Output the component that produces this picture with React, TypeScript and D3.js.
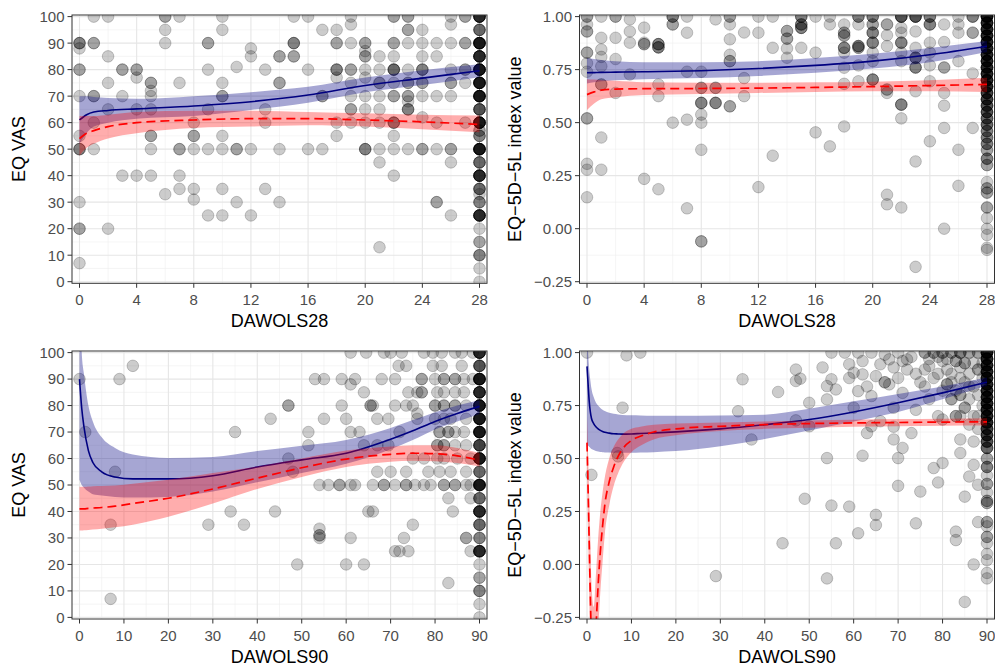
import * as d3 from "d3";

type Pt = [number, number, number]; // x, y, number of overlapping observations

// ---- axes ----
const dawols28Ticks = [0, 4, 8, 12, 16, 20, 24, 28];
const dawols28Minor = [2, 6, 10, 14, 18, 22, 26];
const dawols90Ticks = [0, 10, 20, 30, 40, 50, 60, 70, 80, 90];
const dawols90Minor = [5, 15, 25, 35, 45, 55, 65, 75, 85];
const vasTicks = [0, 10, 20, 30, 40, 50, 60, 70, 80, 90, 100];
const vasMinor = [5, 15, 25, 35, 45, 55, 65, 75, 85, 95];
const eq5dTicks = [-0.25, 0, 0.25, 0.5, 0.75, 1];
const eq5dMinor = [-0.125, 0.125, 0.375, 0.625, 0.875];
const eq5dTickLabels = ["\u22120.25", "0.00", "0.25", "0.50", "0.75", "1.00"];

// ---- top-left: EQ VAS vs DAWOLS28 ----
const tlPoints: Pt[] = [
  [0, 90, 3], [0, 88, 1], [0, 80, 2], [0, 70, 1], [0, 55, 1], [0, 50, 3], [0, 30, 1], [0, 20, 2], [0, 7, 1],
  [1, 100, 1], [1, 90, 2], [1, 70, 2], [1, 60, 1], [1, 50, 1],
  [2, 100, 1], [2, 85, 1], [2, 75, 1], [2, 65, 1], [2, 20, 1],
  [3, 80, 2], [3, 70, 1], [3, 40, 1],
  [4, 80, 2], [4, 77, 1], [4, 65, 1], [4, 40, 1],
  [5, 75, 2], [5, 72, 1], [5, 70, 1], [5, 65, 1], [5, 55, 2], [5, 50, 1], [5, 40, 1],
  [6, 100, 2], [6, 95, 1], [6, 90, 1], [6, 33, 1],
  [7, 100, 1], [7, 75, 1], [7, 50, 2], [7, 40, 1], [7, 35, 1],
  [8, 60, 1], [8, 55, 2], [8, 50, 1], [8, 35, 1], [8, 31, 1],
  [9, 90, 2], [9, 80, 1], [9, 65, 1], [9, 50, 1], [9, 25, 1],
  [10, 100, 1], [10, 95, 1], [10, 75, 1], [10, 70, 2], [10, 55, 1], [10, 50, 1], [10, 35, 1], [10, 25, 1],
  [11, 81, 1], [11, 50, 2], [11, 30, 1],
  [12, 88, 1], [12, 85, 1], [12, 50, 1], [12, 25, 1],
  [13, 80, 1], [13, 65, 1], [13, 60, 1], [13, 35, 1],
  [14, 85, 2], [14, 75, 2], [14, 50, 1], [14, 30, 1],
  [15, 100, 1], [15, 90, 3], [15, 85, 2],
  [16, 100, 1], [16, 80, 1], [16, 50, 1],
  [17, 95, 1], [17, 70, 2], [17, 50, 1],
  [18, 95, 1], [18, 90, 2], [18, 80, 3], [18, 77, 1], [18, 60, 1], [18, 55, 1],
  [19, 100, 1], [19, 97, 1], [19, 90, 1], [19, 80, 2], [19, 75, 1], [19, 70, 1], [19, 65, 2], [19, 60, 1],
  [20, 90, 2], [20, 87, 1], [20, 85, 2], [20, 80, 1], [20, 77, 1], [20, 70, 1], [20, 65, 1], [20, 60, 1], [20, 50, 3],
  [21, 85, 1], [21, 80, 1], [21, 75, 2], [21, 70, 1], [21, 65, 1], [21, 60, 1], [21, 50, 1], [21, 45, 1], [21, 13, 1],
  [22, 100, 2], [22, 90, 2], [22, 85, 1], [22, 80, 4], [22, 75, 1], [22, 70, 2], [22, 60, 3], [22, 55, 1], [22, 50, 1], [22, 40, 1],
  [23, 100, 2], [23, 95, 2], [23, 90, 1], [23, 80, 1], [23, 75, 2], [23, 70, 2], [23, 68, 1], [23, 65, 3], [23, 50, 1],
  [24, 95, 1], [24, 90, 1], [24, 85, 1], [24, 80, 3], [24, 75, 2], [24, 70, 1], [24, 62, 1], [24, 50, 2],
  [25, 90, 1], [25, 85, 1], [25, 70, 1], [25, 60, 1], [25, 50, 1], [25, 30, 2],
  [26, 100, 1], [26, 97, 1], [26, 90, 1], [26, 80, 1], [26, 75, 2], [26, 70, 1], [26, 50, 2], [26, 45, 1], [26, 25, 1],
  [27, 100, 2], [27, 90, 2], [27, 80, 2], [27, 75, 1], [27, 60, 1],
  [28, 100, 8], [28, 95, 4], [28, 90, 10], [28, 85, 8], [28, 80, 10], [28, 75, 10], [28, 70, 10], [28, 65, 5],
  [28, 60, 10], [28, 57, 2], [28, 55, 3], [28, 50, 10], [28, 45, 4], [28, 40, 8], [28, 35, 4], [28, 33, 1],
  [28, 30, 3], [28, 25, 8], [28, 20, 1], [28, 15, 2], [28, 10, 3], [28, 5, 1], [28, 0, 1],
];
const tlGrid = [0, 0.5, 1, 2, 4, 8, 12, 16, 20, 24, 28];
const tlBlue = [61, 63, 64, 64.6, 65.2, 66.3, 67.9, 70.4, 74, 76.8, 79.6];
const tlBlueLo = [52, 56, 58.5, 60, 61.5, 62.5, 64.8, 67.5, 71.5, 74.2, 77.1];
const tlBlueHi = [70, 70, 69.7, 69.3, 69, 70, 71.5, 73.5, 77, 79.8, 82];
const tlRed = [54, 56, 57, 58.5, 60, 61, 61.5, 61.5, 61, 60.3, 59.3];
const tlRedLo = [47.5, 50.5, 52, 54, 56, 58, 58.5, 59, 58.5, 57.5, 56.4];
const tlRedHi = [62.5, 62.5, 62.5, 63, 64, 64.5, 64.5, 64, 63.5, 63, 62.7];

// ---- top-right: EQ-5D-5L vs DAWOLS28 ----
const trPoints: Pt[] = [
  [0, 1, 2], [0, 0.963, 1], [0, 0.93, 2], [0, 0.83, 2], [0, 0.78, 1], [0, 0.74, 1], [0, 0.52, 2], [0, 0.306, 1], [0, 0.278, 1], [0, 0.148, 1],
  [1, 1, 1], [1, 0.9, 1], [1, 0.845, 1], [1, 0.81, 1], [1, 0.766, 1], [1, 0.68, 2], [1, 0.43, 1], [1, 0.278, 1],
  [2, 1, 2], [2, 0.9, 1], [2, 0.8, 1], [2, 0.64, 1],
  [3, 0.987, 1], [3, 0.93, 1], [3, 0.877, 1], [3, 0.727, 1],
  [4, 0.948, 1], [4, 0.877, 1], [4, 0.87, 2], [4, 0.235, 1],
  [5, 0.87, 3], [5, 0.855, 3], [5, 0.68, 1], [5, 0.625, 1], [5, 0.186, 1],
  [6, 1, 3], [6, 0.963, 2], [6, 0.5, 1],
  [7, 1, 1], [7, 0.924, 1], [7, 0.74, 1], [7, 0.514, 1], [7, 0.096, 1],
  [8, 0.74, 1], [8, 0.664, 2], [8, 0.593, 3], [8, 0.538, 1], [8, 0.5, 1], [8, 0.372, 1], [8, -0.06, 2],
  [9, 0.987, 1], [9, 0.664, 2], [9, 0.593, 3],
  [10, 1, 2], [10, 0.963, 1], [10, 0.893, 1], [10, 0.82, 1], [10, 0.79, 2], [10, 0.577, 2],
  [11, 0.925, 1], [11, 0.71, 1], [11, 0.625, 1],
  [12, 1, 1], [12, 0.924, 1], [12, 0.196, 1],
  [13, 1, 1], [13, 0.853, 1], [13, 0.344, 1],
  [14, 0.932, 2], [14, 0.896, 2], [14, 0.85, 1], [14, 0.806, 1],
  [15, 1, 3], [15, 0.963, 3], [15, 0.947, 3], [15, 0.853, 1],
  [16, 1, 1], [16, 0.83, 1], [16, 0.454, 1],
  [17, 1, 1], [17, 0.963, 1], [17, 0.388, 1],
  [18, 0.963, 1], [18, 0.924, 2], [18, 0.91, 2], [18, 0.853, 3], [18, 0.83, 1], [18, 0.759, 1], [18, 0.683, 1], [18, 0.482, 1],
  [19, 1, 3], [19, 0.963, 1], [19, 0.861, 3], [19, 0.853, 2], [19, 0.77, 1], [19, 0.695, 1],
  [20, 1, 3], [20, 0.963, 2], [20, 0.924, 3], [20, 0.877, 3], [20, 0.83, 1], [20, 0.79, 1], [20, 0.703, 3],
  [21, 0.963, 2], [21, 0.912, 1], [21, 0.861, 1], [21, 0.656, 2], [21, 0.64, 1], [21, 0.16, 1], [21, 0.115, 1],
  [22, 1, 5], [22, 0.947, 1], [22, 0.924, 1], [22, 0.877, 3], [22, 0.83, 1], [22, 0.79, 1], [22, 0.585, 3], [22, 0.52, 1], [22, 0.1, 1],
  [23, 1, 5], [23, 0.93, 1], [23, 0.853, 1], [23, 0.806, 3], [23, 0.76, 3], [23, 0.648, 1], [23, 0.317, 1], [23, -0.18, 1],
  [24, 1, 3], [24, 0.963, 3], [24, 0.877, 1], [24, 0.83, 1], [24, 0.77, 1], [24, 0.695, 1], [24, 0.412, 1],
  [25, 0.963, 1], [25, 0.88, 1], [25, 0.76, 2], [25, 0.64, 1], [25, 0.58, 1], [25, 0.475, 1], [25, 0, 1],
  [26, 1, 1], [26, 0.963, 1], [26, 0.924, 1], [26, 0.79, 1], [26, 0.372, 1], [26, 0.202, 1],
  [27, 1, 3], [27, 0.924, 2], [27, 0.732, 1], [27, 0.475, 1],
  [28, 1, 10], [28, 0.97, 8], [28, 0.94, 8], [28, 0.91, 8], [28, 0.88, 8], [28, 0.85, 8], [28, 0.82, 8],
  [28, 0.79, 8], [28, 0.76, 8], [28, 0.73, 8], [28, 0.7, 8], [28, 0.67, 8], [28, 0.64, 6], [28, 0.61, 6],
  [28, 0.58, 5], [28, 0.55, 5], [28, 0.52, 4], [28, 0.49, 4], [28, 0.46, 3], [28, 0.43, 3], [28, 0.4, 3],
  [28, 0.37, 2], [28, 0.33, 3], [28, 0.3, 2], [28, 0.22, 1], [28, 0.19, 2], [28, 0.17, 2], [28, 0.1, 2],
  [28, 0.05, 1], [28, 0, 1], [28, -0.03, 1], [28, -0.09, 1], [28, -0.1, 1],
];
const trGrid = [0, 0.5, 1, 2, 4, 8, 12, 16, 20, 24, 28];
const trBlue = [0.735, 0.736, 0.737, 0.738, 0.74, 0.745, 0.755, 0.77, 0.79, 0.82, 0.86];
const trBlueLo = [0.685, 0.69, 0.695, 0.7, 0.705, 0.71, 0.72, 0.735, 0.755, 0.785, 0.833];
const trBlueHi = [0.805, 0.8, 0.795, 0.79, 0.785, 0.785, 0.79, 0.805, 0.825, 0.852, 0.885];
const trRed = [0.632, 0.645, 0.653, 0.658, 0.66, 0.661, 0.663, 0.666, 0.67, 0.675, 0.68];
const trRedLo = [0.56, 0.59, 0.61, 0.62, 0.63, 0.635, 0.64, 0.645, 0.648, 0.648, 0.645];
const trRedHi = [0.705, 0.703, 0.7, 0.697, 0.69, 0.688, 0.688, 0.69, 0.693, 0.7, 0.712];

// ---- bottom-left: EQ VAS vs DAWOLS90 ----
const blPoints: Pt[] = [
  [0, 90, 1], [1.3, 70, 1], [7, 35, 1], [7, 7, 1], [8, 55, 1], [9, 90, 1], [12, 95, 1], [29, 35, 1], [34, 40, 1],
  [35, 70, 1], [37, 35, 1], [43, 75, 1], [44, 40, 1], [47, 80, 2], [47, 60, 1], [48, 55, 1], [49, 20, 1],
  [51.5, 70, 1], [51.5, 65, 1], [53, 90, 1], [54, 50, 1], [54, 33.5, 1], [54, 31, 2], [54, 30, 1], [55, 90, 1],
  [55, 75, 1], [56, 50, 1], [58.5, 50, 2], [59, 90, 1], [59, 80, 1], [60, 75, 1], [60, 20, 1], [61, 100, 1],
  [61, 88, 1], [61, 70, 1], [61, 50, 1], [61, 30, 1], [62, 90, 1], [62, 50, 1], [63, 70, 1], [64, 85, 1],
  [64, 65, 1], [64, 20, 1], [64.5, 100, 1], [65, 40, 1], [65.5, 80, 2], [66, 80, 1], [66, 50, 1], [66, 40, 1],
  [67, 75, 1], [67, 65, 1], [67, 55, 1], [68, 90, 1], [68.5, 100, 1], [68.5, 50, 2], [69.5, 75, 1], [69.5, 65, 1],
  [70, 100, 1], [70, 55, 1], [71, 90, 1], [71, 80, 1], [71, 50, 1], [71, 25, 1], [71.8, 95, 1], [72, 70, 1],
  [72, 25, 1], [72.5, 100, 1], [73, 30, 1], [73.5, 95, 1], [73.5, 80, 1], [73.5, 55, 1], [73.5, 50, 2], [74, 85, 1],
  [74, 25, 1], [75, 80, 1], [75, 60, 1], [75, 35, 1], [75.5, 50, 1], [76, 85, 1], [76, 77, 1], [76, 75, 1],
  [77, 90, 2], [77, 85, 2], [77.5, 100, 1], [77.5, 60, 1], [77.5, 50, 1], [78.5, 55, 1], [79, 50, 1], [79.5, 100, 1],
  [79.5, 95, 1], [80, 90, 1], [80, 80, 2], [80, 75, 1], [80.5, 85, 1], [80.5, 65, 2], [80.5, 60, 1], [81, 70, 2],
  [81, 55, 1], [81.5, 100, 1], [81.5, 95, 1], [82, 90, 2], [82, 85, 1], [82, 80, 2], [82, 75, 1], [82, 65, 2],
  [82, 60, 1], [82, 50, 2], [83, 70, 2], [83, 45, 1], [83, 13, 1], [83.5, 75, 1], [83.5, 55, 1], [84, 40, 1],
  [84.5, 100, 1], [84.5, 90, 2], [84.5, 85, 1], [84.5, 80, 2], [84.5, 70, 1], [84.5, 65, 1], [84.5, 50, 2], [85, 60, 1],
  [86, 100, 1], [86, 95, 1], [86.5, 90, 1], [86.5, 85, 1], [86.5, 70, 1], [87, 80, 1], [87, 75, 1], [87, 65, 1],
  [87, 55, 1], [87, 50, 1], [87, 30, 2], [88, 60, 1], [88, 50, 1], [88, 45, 1], [88, 25, 1], [88.5, 100, 1], [88.5, 90, 1],
  [90, 100, 8], [90, 95, 5], [90, 90, 10], [90, 85, 8], [90, 80, 10], [90, 75, 10], [90, 70, 10], [90, 65, 6],
  [90, 60, 10], [90, 55, 4], [90, 50, 10], [90, 45, 4], [90, 40, 8], [90, 35, 4], [90, 30, 3], [90, 25, 8],
  [90, 20, 1], [90, 15, 2], [90, 10, 3], [90, 5, 1], [90, 0, 1],
];
const blGrid = [0, 0.5, 1, 2, 3, 5, 8, 12, 20, 30, 40, 50, 60, 70, 75, 80, 85, 90];
const blBlue = [90, 79, 72, 63, 58.5, 55, 53, 52.3, 52.3, 53.5, 56.8, 59.5, 62, 67.3, 70.5, 74, 77, 79.7];
const blBlueLo = [52, 50, 49, 47.5, 46.5, 46, 45.5, 45.3, 45.5, 47.5, 51, 54.5, 58, 63.5, 67, 71, 74, 76.8];
const blBlueHi = [125, 100, 92, 80, 74, 68, 64, 61.5, 60.2, 60.6, 62.8, 64.8, 67, 71.5, 74.5, 77.5, 80, 82];
const blRed = [41, 41, 41, 41.2, 41.3, 41.5, 42, 43, 45, 48.5, 52.6, 56.5, 59.8, 61.6, 62, 61.8, 61, 59.3];
const blRedLo = [32.8, 32.8, 32.9, 33, 33.2, 33.5, 34, 35, 38, 43, 48.5, 53, 56.8, 58.8, 59.2, 59, 58.3, 57];
const blRedHi = [49.3, 49.3, 49.3, 49.4, 49.5, 49.6, 49.8, 50.5, 52, 54.5, 57, 60, 63, 64.5, 65, 65, 64, 62.1];

// ---- bottom-right: EQ-5D-5L vs DAWOLS90 ----
const brPoints: Pt[] = [
  [0, 1, 1], [1, 0.423, 1], [6.8, 0.526, 1], [7, 0.51, 1], [8, 0.74, 1], [8.9, 0.987, 1], [12, 1, 1], [29, -0.055, 1],
  [34, 0.723, 1], [35, 0.874, 1], [37, 0.59, 1], [43, 0.814, 1], [44, 0.1, 1], [47, 0.92, 1], [47, 0.866, 1],
  [47, 0.68, 1], [48, 0.877, 1], [49, 0.31, 1], [50, 0.763, 1], [50, 0.652, 1], [53, 0.93, 1], [54, 0.842, 1],
  [54, 0.779, 1], [54, 0.502, 1], [54, -0.066, 1], [55, 1, 1], [55, 0.874, 1], [55, 0.278, 1], [56, 0.826, 1],
  [56, 0.1, 1], [58, 1, 1], [59, 0.945, 1], [59, 0.88, 1], [59, 0.273, 1], [60, 0.905, 1], [60, 0.74, 1], [61, 1, 1],
  [61, 0.818, 1], [61, 0.147, 1], [62, 0.96, 1], [62, 0.897, 1], [62, 0.513, 1], [63, 0.84, 1], [63, 0.62, 1],
  [64, 1, 1], [64, 0.795, 1], [64, 0.652, 1], [65, 0.889, 1], [65, 0.234, 1], [65, 0.186, 1], [66, 0.945, 1],
  [66, 0.676, 1], [67, 0.99, 1], [67, 0.86, 2], [68, 0.968, 1], [68, 0.85, 1], [69, 0.93, 1], [69, 0.74, 1],
  [69, 0.65, 1], [69, 0.59, 1], [70, 1, 1], [70, 0.88, 1], [70, 0.502, 1], [70, 0.371, 1], [71, 0.96, 1],
  [71, 0.81, 1], [71, 0.55, 1], [72, 0.968, 1], [72, 0.92, 1], [73, 0.98, 1], [73, 0.62, 1], [74, 0.9, 1],
  [74, 0.73, 1], [74, 0.194, 1], [75, 0.86, 1], [75, 0.344, 1], [76, 1, 2], [76, 0.84, 1], [77, 0.937, 1],
  [77, 0.78, 1], [78, 1, 2], [78, 0.88, 1], [78, 0.455, 1], [79, 0.98, 1], [79, 0.7, 1], [79, 0.387, 1],
  [80, 1, 2], [80, 0.96, 1], [80, 0.684, 1], [80, 0.479, 1], [81, 0.92, 1], [81, 0.85, 2], [82, 1, 2],
  [82, 0.9, 1], [82, 0.78, 2], [83, 0.96, 2], [83, 0.7, 2], [83, 0.155, 1], [83, 0.115, 1], [84, 1, 3],
  [84, 0.88, 1], [84, 0.8, 2], [84, 0.59, 1], [84, 0.526, 1], [85, 0.95, 2], [85, 0.74, 2], [85, 0.32, 1],
  [85, -0.177, 1], [86, 1, 2], [86, 0.9, 1], [86, 0.78, 1], [86, 0.66, 1], [86, 0.415, 1], [87, 0.84, 1],
  [87, 0.7, 1], [87, 0.58, 1], [87, 0.47, 1], [87, 0, 1], [88, 1, 2], [88, 0.92, 2], [88, 0.8, 1], [88, 0.64, 1],
  [88, 0.376, 1], [88, 0.2, 1], [89, 0.95, 1], [89, 0.75, 1],
  [76, 0.92, 1], [77, 0.97, 1], [79, 0.9, 1], [80, 0.82, 1], [81, 0.97, 1], [82, 0.86, 1], [83, 0.82, 1],
  [84, 0.93, 1], [85, 0.86, 1], [86, 0.84, 1], [87, 0.95, 1], [88, 0.7, 1], [89, 0.88, 1], [84, 0.7, 1],
  [90, 1, 10], [90, 0.97, 8], [90, 0.94, 8], [90, 0.91, 8], [90, 0.88, 8], [90, 0.85, 8], [90, 0.82, 8],
  [90, 0.79, 8], [90, 0.76, 8], [90, 0.73, 8], [90, 0.7, 8], [90, 0.67, 8], [90, 0.64, 6], [90, 0.61, 6],
  [90, 0.58, 5], [90, 0.55, 4], [90, 0.5, 2], [90, 0.46, 3], [90, 0.42, 1], [90, 0.38, 2], [90, 0.34, 1],
  [90, 0.3, 2], [90, 0.29, 2], [90, 0.2, 2], [90, 0.18, 1], [90, 0.13, 2], [90, 0.1, 1], [90, 0.05, 1],
  [90, 0.02, 1], [90, -0.04, 1], [90, -0.066, 1],
];
const brGrid = [0, 0.25, 0.5, 0.75, 1, 1.5, 2, 2.5, 3, 3.5, 4, 5, 6, 7, 8, 10, 12, 15, 20, 30, 40, 50, 60, 70, 80, 90];
const brBlue = [0.935, 0.85, 0.77, 0.72, 0.69, 0.665, 0.65, 0.64, 0.633, 0.628, 0.624, 0.62, 0.617, 0.616, 0.615, 0.616, 0.618, 0.621, 0.626, 0.64, 0.66, 0.684, 0.72, 0.763, 0.81, 0.86];
const brBlueLo = [0.56, 0.56, 0.555, 0.55, 0.545, 0.54, 0.535, 0.533, 0.531, 0.53, 0.529, 0.528, 0.527, 0.527, 0.527, 0.527, 0.528, 0.53, 0.535, 0.558, 0.592, 0.632, 0.675, 0.72, 0.78, 0.843];
const brBlueHi = [1.1, 1.0, 0.92, 0.87, 0.83, 0.79, 0.765, 0.75, 0.738, 0.73, 0.724, 0.716, 0.711, 0.708, 0.706, 0.704, 0.703, 0.702, 0.702, 0.703, 0.707, 0.735, 0.77, 0.805, 0.84, 0.882];
const brRed = [0.575, 0.35, 0.1, -0.15, -0.35, -0.45, -0.3, -0.1, 0.06, 0.18, 0.28, 0.39, 0.46, 0.51, 0.545, 0.585, 0.605, 0.625, 0.64, 0.652, 0.66, 0.665, 0.668, 0.67, 0.672, 0.673];
const brRedLo = [0.45, 0.15, -0.15, -0.42, -0.62, -0.7, -0.55, -0.32, -0.13, 0.01, 0.14, 0.28, 0.37, 0.43, 0.475, 0.53, 0.56, 0.59, 0.61, 0.63, 0.64, 0.645, 0.65, 0.652, 0.655, 0.656];
const brRedHi = [0.7, 0.52, 0.33, 0.12, -0.08, -0.2, -0.05, 0.12, 0.25, 0.34, 0.41, 0.5, 0.555, 0.59, 0.615, 0.64, 0.65, 0.66, 0.665, 0.67, 0.675, 0.68, 0.683, 0.686, 0.688, 0.69];

const FONT = '"Liberation Sans", Arial, Helvetica, sans-serif';
const TICK_SIZE = 15;
const TITLE_SIZE = 18;

type PanelProps = {
  id: string;
  left: number;
  right: number;
  top: number;
  bottom: number;
  xDomain: [number, number];
  yDomain: [number, number];
  xTicks: number[];
  xMinor: number[];
  yTicks: number[];
  yMinor: number[];
  yLabels: string[];
  points: Pt[];
  grid: number[];
  blue: number[];
  blueLo: number[];
  blueHi: number[];
  red: number[];
  redLo: number[];
  redHi: number[];
  xTitle: string;
  yTitle: string;
  yTitleX: number;
};

function Panel(p: PanelProps) {
  const x = d3.scaleLinear().domain(p.xDomain).range([p.left + 7.5, p.right - 7.5]);
  const y = d3.scaleLinear().domain(p.yDomain).range([p.bottom - 1.6, p.top + 1.6]);

  const line = (vals: number[]) =>
    d3
      .line<number>()
      .x((_, i) => x(p.grid[i]))
      .y((v) => y(v))
      .curve(d3.curveMonotoneX)(vals) ?? "";
  const area = (lo: number[], hi: number[]) =>
    d3
      .area<number>()
      .x((g) => x(g))
      .y0((_, i) => y(lo[i]))
      .y1((_, i) => y(hi[i]))
      .curve(d3.curveMonotoneX)(p.grid) ?? "";

  const midX = (p.left + p.right) / 2;
  const midY = (p.top + p.bottom) / 2;

  return (
    <g>
      <defs>
        <clipPath id={p.id}>
          <rect x={p.left} y={p.top} width={p.right - p.left} height={p.bottom - p.top} />
        </clipPath>
      </defs>
      <rect x={p.left} y={p.top} width={p.right - p.left} height={p.bottom - p.top} fill="#fff" />

      {/* grid */}
      <g stroke="#efefef" strokeWidth={0.6}>
        {p.xMinor.map((t) => (
          <line key={"xm" + t} x1={x(t)} x2={x(t)} y1={p.top} y2={p.bottom} />
        ))}
        {p.yMinor.map((t) => (
          <line key={"ym" + t} x1={p.left} x2={p.right} y1={y(t)} y2={y(t)} />
        ))}
      </g>
      <g stroke="#e6e6e6" strokeWidth={1.1}>
        {p.xTicks.map((t) => (
          <line key={"xg" + t} x1={x(t)} x2={x(t)} y1={p.top} y2={p.bottom} />
        ))}
        {p.yTicks.map((t) => (
          <line key={"yg" + t} x1={p.left} x2={p.right} y1={y(t)} y2={y(t)} />
        ))}
      </g>

      <g clipPath={`url(#${p.id})`}>
        <g fill="#000" fillOpacity={0.2} stroke="#000" strokeOpacity={0.2} strokeWidth={1}>
          {p.points.flatMap(([px, py, n], k) =>
            d3.range(n).map((j) => <circle key={k + "-" + j} cx={x(px)} cy={y(py)} r={5.8} />)
          )}
        </g>
        <path d={area(p.blueLo, p.blueHi)} fill="#000080" fillOpacity={0.35} />
        <path d={line(p.blue)} fill="none" stroke="#000080" strokeWidth={1.6} />
        <path d={area(p.redLo, p.redHi)} fill="#ff0000" fillOpacity={0.32} />
        <path d={line(p.red)} fill="none" stroke="#ff0000" strokeWidth={1.7} strokeDasharray="9,5" />
      </g>

      <rect x={p.left} y={p.top} width={p.right - p.left} height={p.bottom - p.top} fill="none" stroke="#333" strokeWidth={1} />

      {/* axes */}
      <g stroke="#333" strokeWidth={1}>
        {p.xTicks.map((t) => (
          <line key={"xt" + t} x1={x(t)} x2={x(t)} y1={p.bottom} y2={p.bottom + 4.5} />
        ))}
        {p.yTicks.map((t) => (
          <line key={"yt" + t} x1={p.left - 4.5} x2={p.left} y1={y(t)} y2={y(t)} />
        ))}
      </g>
      <g fontFamily={FONT} fontSize={TICK_SIZE} fill="#4d4d4d">
        {p.xTicks.map((t) => (
          <text key={"xl" + t} x={x(t)} y={p.bottom + 21.5} textAnchor="middle">
            {t}
          </text>
        ))}
        {p.yTicks.map((t, i) => (
          <text key={"yl" + t} x={p.left - 7.5} y={y(t)} dy="0.36em" textAnchor="end">
            {p.yLabels[i]}
          </text>
        ))}
      </g>
      <text x={midX} y={p.bottom + 43.7} textAnchor="middle" fontFamily={FONT} fontSize={TITLE_SIZE} fill="#000">
        {p.xTitle}
      </text>
      <text
        transform={`translate(${p.yTitleX},${midY}) rotate(-90)`}
        textAnchor="middle"
        fontFamily={FONT}
        fontSize={TITLE_SIZE}
        fill="#000"
      >
        {p.yTitle}
      </text>
    </g>
  );
}

export default function App() {
  const vasLabels = vasTicks.map(String);
  const leftBox = { left: 72, right: 487 };
  const rightBox = { left: 579.5, right: 994.5 };
  const topBox = { top: 15, bottom: 283.3 };
  const botBox = { top: 351, bottom: 619 };

  return (
    <svg
      width={995}
      height={669}
      viewBox="0 0 995 669"
      style={{ position: "absolute", left: 0, top: 0, background: "#fff" }}
    >
      <rect width={995} height={669} fill="#fff" />
      <Panel
        id="clip-tl"
        {...leftBox}
        {...topBox}
        xDomain={[0, 28]}
        yDomain={[0, 100]}
        xTicks={dawols28Ticks}
        xMinor={dawols28Minor}
        yTicks={vasTicks}
        yMinor={vasMinor}
        yLabels={vasLabels}
        points={tlPoints}
        grid={tlGrid}
        blue={tlBlue}
        blueLo={tlBlueLo}
        blueHi={tlBlueHi}
        red={tlRed}
        redLo={tlRedLo}
        redHi={tlRedHi}
        xTitle="DAWOLS28"
        yTitle="EQ VAS"
        yTitleX={25}
      />
      <Panel
        id="clip-tr"
        {...rightBox}
        {...topBox}
        xDomain={[0, 28]}
        yDomain={[-0.25, 1]}
        xTicks={dawols28Ticks}
        xMinor={dawols28Minor}
        yTicks={eq5dTicks}
        yMinor={eq5dMinor}
        yLabels={eq5dTickLabels}
        points={trPoints}
        grid={trGrid}
        blue={trBlue}
        blueLo={trBlueLo}
        blueHi={trBlueHi}
        red={trRed}
        redLo={trRedLo}
        redHi={trRedHi}
        xTitle="DAWOLS28"
        yTitle={"EQ\u22125D\u22125L index value"}
        yTitleX={520.5}
      />
      <Panel
        id="clip-bl"
        {...leftBox}
        {...botBox}
        xDomain={[0, 90]}
        yDomain={[0, 100]}
        xTicks={dawols90Ticks}
        xMinor={dawols90Minor}
        yTicks={vasTicks}
        yMinor={vasMinor}
        yLabels={vasLabels}
        points={blPoints}
        grid={blGrid}
        blue={blBlue}
        blueLo={blBlueLo}
        blueHi={blBlueHi}
        red={blRed}
        redLo={blRedLo}
        redHi={blRedHi}
        xTitle="DAWOLS90"
        yTitle="EQ VAS"
        yTitleX={25}
      />
      <Panel
        id="clip-br"
        {...rightBox}
        {...botBox}
        xDomain={[0, 90]}
        yDomain={[-0.25, 1]}
        xTicks={dawols90Ticks}
        xMinor={dawols90Minor}
        yTicks={eq5dTicks}
        yMinor={eq5dMinor}
        yLabels={eq5dTickLabels}
        points={brPoints}
        grid={brGrid}
        blue={brBlue}
        blueLo={brBlueLo}
        blueHi={brBlueHi}
        red={brRed}
        redLo={brRedLo}
        redHi={brRedHi}
        xTitle="DAWOLS90"
        yTitle={"EQ\u22125D\u22125L index value"}
        yTitleX={520.5}
      />
    </svg>
  );
}
